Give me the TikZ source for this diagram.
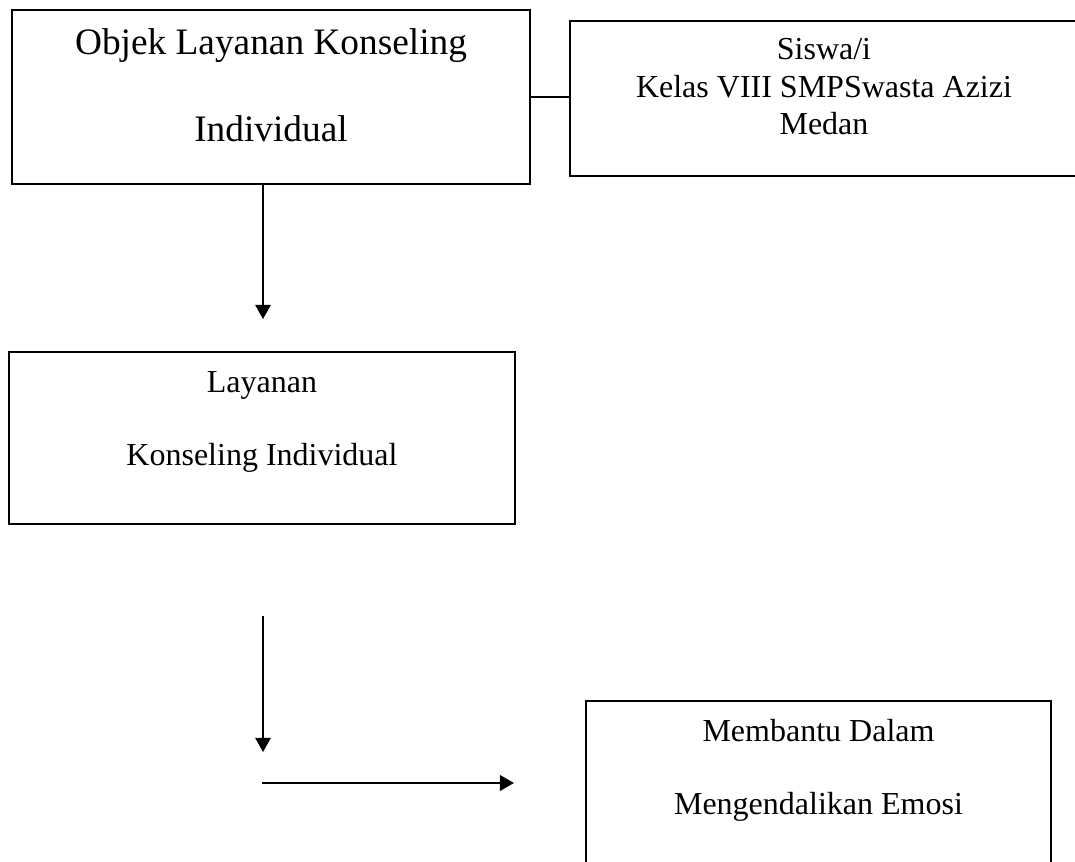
\documentclass[tikz,border=0pt]{standalone}
\usepackage{fontspec}
\setmainfont{Liberation Serif}
\usetikzlibrary{positioning,arrows.meta}
\tikzset{blok/.style={draw,rectangle,line width=0.75pt,inner sep=0pt},
    tulis/.style={inner sep=0pt,align=center},
    besar/.style={font=\fontsize{14}{32.6}\selectfont},
    kecil/.style={font=\fontsize{12}{14.06}\selectfont},
    renggang/.style={font=\fontsize{12}{27.2}\selectfont},
    panah/.style={draw,line width=0.6pt,-{Triangle[length=5.3pt,width=5.8pt]}}}

\begin{document}
\begin{tikzpicture}[x=0.375pt,y=-0.375pt]
\useasboundingbox (0,0) rectangle (1075,862);
\node[blok,minimum width=194.25pt,minimum height=65.25pt] (objek) at (271,97) {};
\node[blok,minimum width=190.5pt,minimum height=58.125pt] (siswa) at (824,98.5) {};
\node[blok,minimum width=189.75pt,minimum height=64.5pt] (layanan) at (262,438) {};
\node[blok,minimum width=174.375pt,minimum height=67.125pt] (emosi) at (818.5,790.5) {};
\node[tulis,besar,below=7.3pt of objek.north] (objekteks) {Objek Layanan Konseling\\Individual};
\node[tulis,kecil,below=6.75pt of siswa.north] (siswateks) {Siswa/i\\Kelas VIII SMPSwasta Azizi\\Medan};
\node[tulis,renggang,below=7.5pt of layanan.north] (layananteks) {Layanan\\Konseling Individual};
\node[tulis,renggang,below=7.1pt of emosi.north] (emositeks) {Membantu Dalam\\Mengendalikan Emosi};
\coordinate (ujungA) at (263,319);
\coordinate (pangkalB) at (263,616);
\coordinate (ujungB) at (263,752);
\coordinate (pangkalC) at (262,783);
\coordinate (ujungC) at (514,783);
\draw[line width=1.1pt] (objek.east) -- (objek.east -| siswa.west);
\draw[panah] ([xshift=-3pt]objek.south) -- (ujungA);
\draw[panah] (pangkalB) -- (ujungB);
\draw[panah,line width=1pt] (pangkalC) -- (ujungC);
\end{tikzpicture}
\end{document}
